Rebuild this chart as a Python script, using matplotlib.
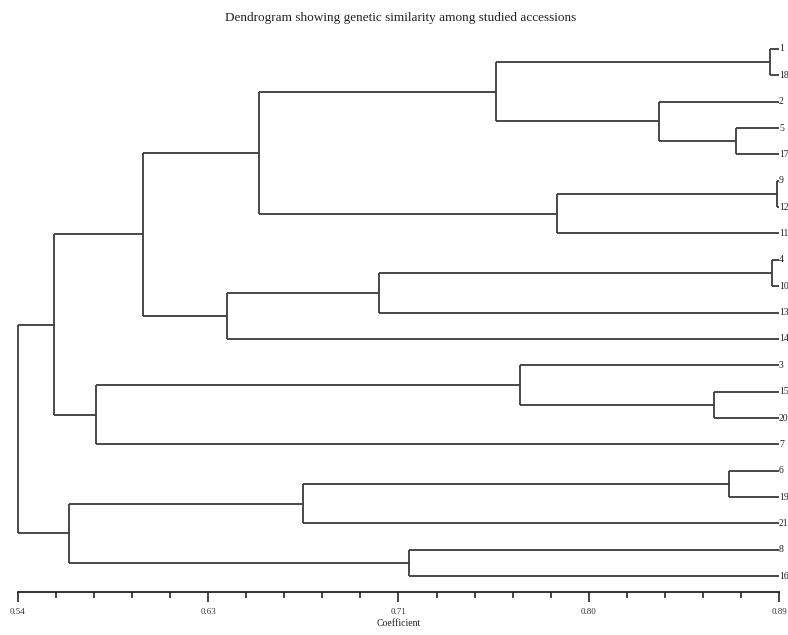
import matplotlib
matplotlib.use("Agg")
import matplotlib.pyplot as plt
import numpy as np

# Leaf labels in dendrogram order (top to bottom)
leaf_labels = ['1', '18', '2', '5', '17', '9', '12', '11', '4', '10', '13', '14',
               '3', '15', '20', '7', '6', '19', '21', '8', '16']

# Merges (scipy-style indices: leaves 0..20, clusters 21..)
merge_left = [0, 3, 2, 21, 5, 25, 24, 8, 28, 29, 27, 13, 12, 33, 31, 16, 36, 19, 37, 35]
merge_right = [1, 4, 22, 23, 6, 7, 26, 9, 10, 11, 30, 14, 32, 15, 34, 17, 18, 20, 38, 39]
merge_height = [0.886, 0.870, 0.835, 0.760, 0.889, 0.788, 0.651, 0.887, 0.706, 0.636,
                0.5975, 0.860, 0.771, 0.576, 0.5565, 0.867, 0.671, 0.720, 0.5635, 0.540]

tick_values = [0.54, 0.6275, 0.715, 0.8025, 0.89]
tick_labels = ['0.54', '0.63', '0.71', '0.80', '0.89']

leaf_level = 0.89
title = 'Dendrogram showing genetic similarity among studied accessions'
xlabel = 'Coefficient'

W, H = 788, 635
fig = plt.figure(figsize=(W / 100, H / 100), dpi=100)
fig.patch.set_facecolor('white')
serif = ['Liberation Serif', 'DejaVu Serif']

ax_left, ax_right = 18, 779
ax_top, ax_bottom = 40, 592
ax = fig.add_axes([ax_left / W, 1 - ax_bottom / H, (ax_right - ax_left) / W, (ax_bottom - ax_top) / H])

n = len(leaf_labels)
xpos = {i: leaf_level for i in range(n)}
ypos = {i: float(i) for i in range(n)}

line_kw = dict(color='#3a3a3a', lw=1.3, solid_capstyle='butt', clip_on=False)
for k, (a, b, h) in enumerate(zip(merge_left, merge_right, merge_height)):
    cid = n + k
    ya, yb = ypos[a], ypos[b]
    ax.plot([xpos[a], h], [ya, ya], **line_kw)
    ax.plot([xpos[b], h], [yb, yb], **line_kw)
    ax.plot([h, h], [ya, yb], **line_kw)
    xpos[cid] = h
    ypos[cid] = (ya + yb) / 2

for i, lab in enumerate(leaf_labels):
    ax.text(leaf_level, i, lab, ha='left', va='center', fontsize=7,
            family=serif, color='#222222', clip_on=False)

ax.set_xlim(0.54, 0.89)
ax.set_ylim(20.6, -0.34)
for s in ['top', 'right', 'left']:
    ax.spines[s].set_visible(False)
ax.spines['bottom'].set_color('#222222')
ax.spines['bottom'].set_linewidth(1.3)
ax.set_yticks([])
ax.set_xticks(tick_values)
ax.set_xticklabels(tick_labels, family=serif, fontsize=6.5, color='#333333')
minor = []
for j in range(len(tick_values) - 1):
    for m in range(1, 5):
        minor.append(tick_values[j] + (tick_values[j + 1] - tick_values[j]) * m / 5)
ax.set_xticks(minor, minor=True)
ax.tick_params(axis='x', which='major', direction='out', length=7.5, width=1.2,
               color='#222222', pad=4)
ax.tick_params(axis='x', which='minor', direction='out', length=4, width=1.2,
               color='#222222')
ax.set_xlabel(xlabel, family=serif, fontsize=7, color='#222222', labelpad=2)

fig.text(0.508, 1 - 18 / H, title, ha='center', va='center', family=serif,
         fontsize=9.5, color='#222222')

fig.savefig('out.png', dpi=100, facecolor='white')
